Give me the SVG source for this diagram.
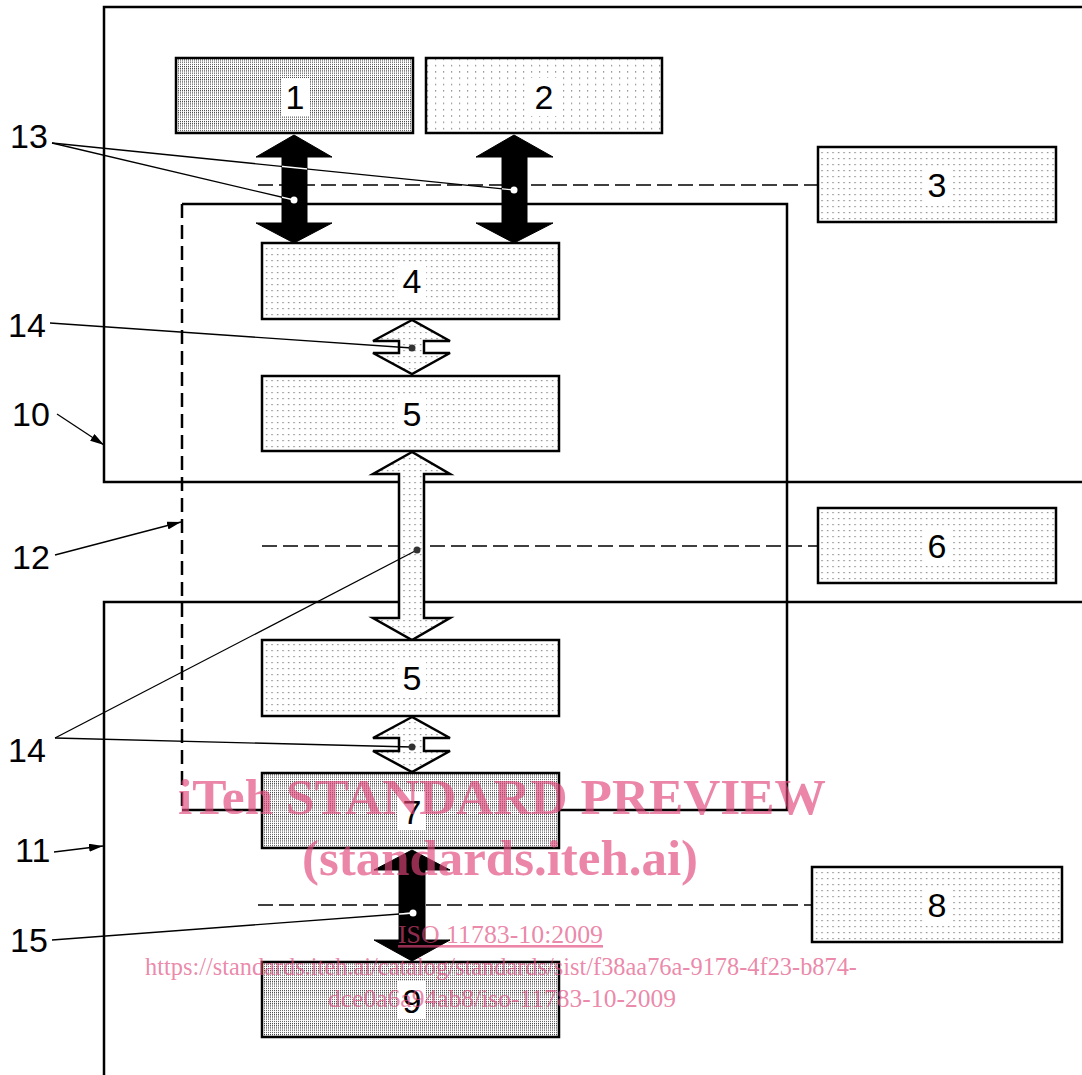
<svg xmlns="http://www.w3.org/2000/svg" width="1082" height="1075" viewBox="0 0 1082 1075">
  <defs>
    <!-- light dot screen for ordinary blocks -->
    <pattern id="dots" width="5.5" height="6" patternUnits="userSpaceOnUse">
      <rect width="5.5" height="6" fill="#fff"/>
      <rect x="2" y="2" width="1.2" height="1.2" fill="#777"/>
    </pattern>
    <!-- sparser dot screen -->
    <pattern id="dotsSparse" width="8" height="6.3" patternUnits="userSpaceOnUse">
      <rect width="8" height="6.3" fill="#fff"/>
      <rect x="3" y="2" width="1.2" height="1.2" fill="#777"/>
    </pattern>
    <!-- dense screen for darker blocks -->
    <pattern id="dense" width="2" height="2.2" patternUnits="userSpaceOnUse">
      <rect width="2" height="2.2" fill="#fff"/>
      <rect x="0" y="0" width="1" height="1.1" fill="#3a3a3a"/>
    </pattern>
    <marker id="tip" viewBox="0 0 14 8" refX="14" refY="4" markerWidth="14" markerHeight="8" markerUnits="userSpaceOnUse" orient="auto">
      <path d="M0,0 L14,4 L0,8 Z" fill="#000"/>
    </marker>
    <clipPath id="blackShafts">
      <polygon points="294,135 256,157 282,157 282,223 256,223 294,243 332,223 307,223 307,157 332,157"/>
      <polygon points="514,135 476,157 502,157 502,223 476,223 514,243 553,223 527,223 527,157 553,157"/>
      <polygon points="412,850 374,870 399,870 399,940 374,940 412,961 450,940 425,940 425,870 450,870"/>
    </clipPath>
  </defs>
  <style>
    .frame { fill: none; stroke: #000; stroke-width: 2.5; }
    .dash { fill: none; stroke: #000; stroke-width: 1.3; stroke-dasharray: 15 6; }
    .zone { fill: none; stroke: #000; stroke-width: 2.5; stroke-dasharray: 14 7; }
    .box { stroke: #000; stroke-width: 2.5; }
    .num { font-family: "Liberation Sans", Arial, sans-serif; font-size: 34px; fill: #000; text-anchor: middle; }
    .lbl { font-family: "Liberation Sans", Arial, sans-serif; font-size: 34px; fill: #000; }
    .gap { fill: #fff; }
    .leader { fill: none; stroke: #000; stroke-width: 1.3; }
    .white { stroke: #fff; }
    .arrowBlack { fill: #000; stroke: #000; stroke-width: 1; }
    .arrowOpen { fill: url(#dots); stroke: #000; stroke-width: 2.5; stroke-linejoin: miter; }
    .wm { font-family: "Liberation Serif", "Times New Roman", serif; fill: #e0457a; fill-opacity: 0.65; }
  </style>

  <rect width="1082" height="1075" fill="#fff"/>

  <!-- system boundaries 10 and 11 -->
  <g id="frame10">
    <polyline class="frame" points="1082,7 104,7 104,482 1082,482"/>
  </g>
  <g id="frame11">
    <polyline class="frame" points="1082,602 104,602 104,1075"/>
  </g>
  <!-- zone 12: dashed left side, solid elsewhere -->
  <g id="zone12">
    <line class="zone" x1="182" y1="204" x2="182" y2="810"/>
    <polyline class="frame" points="182,204 787,204 787,810 182,810"/>
  </g>

  <!-- interface lines to 3, 6, 8 and the data-flow arrows -->
  <g id="connectors">
    <line class="dash" x1="258" y1="185" x2="818" y2="185"/>
    <line class="dash" x1="262" y1="546" x2="818" y2="546"/>
    <line class="dash" x1="258" y1="905" x2="812" y2="905"/>

    <!-- black double arrows -->
    <polygon class="arrowBlack" points="294,135 256,157 282,157 282,223 256,223 294,243 332,223 307,223 307,157 332,157"/>
    <polygon class="arrowBlack" points="514,135 476,157 502,157 502,223 476,223 514,243 553,223 527,223 527,157 553,157"/>
    <polygon class="arrowBlack" points="412,850 374,870 399,870 399,940 374,940 412,961 450,940 425,940 425,870 450,870"/>

    <!-- open double arrows -->
    <polygon class="arrowOpen" points="412,320 373,341 399,341 399,353 373,353 412,374 450,353 424,353 424,341 450,341"/>
    <polygon class="arrowOpen" points="412,452 373,474 399,474 399,618 373,618 412,640 450,618 424,618 424,474 450,474"/>
    <polygon class="arrowOpen" points="412,717 373,738 399,738 399,751 373,751 412,772 450,751 424,751 424,738 450,738"/>
  </g>

  <!-- blocks -->
  <g id="node1"><rect class="box" x="176" y="58" width="237" height="75" fill="url(#dense)"/><rect class="gap" x="281" y="78" width="28" height="38"/><text class="num" x="295" y="109">1</text></g>
  <g id="node2"><rect class="box" x="426" y="58" width="236" height="75" fill="url(#dotsSparse)"/><rect class="gap" x="530" y="78" width="28" height="38"/><text class="num" x="544" y="109">2</text></g>
  <g id="node3"><rect class="box" x="818" y="147" width="238" height="75" fill="url(#dots)"/><rect class="gap" x="923" y="167" width="28" height="38"/><text class="num" x="937" y="197">3</text></g>
  <g id="node4"><rect class="box" x="262" y="243" width="297" height="76" fill="url(#dots)"/><rect class="gap" x="398" y="262" width="28" height="38"/><text class="num" x="412" y="293">4</text></g>
  <g id="node5a"><rect class="box" x="262" y="376" width="297" height="75" fill="url(#dots)"/><rect class="gap" x="398" y="395" width="28" height="38"/><text class="num" x="412" y="426">5</text></g>
  <g id="node6"><rect class="box" x="818" y="508" width="238" height="75" fill="url(#dots)"/><rect class="gap" x="923" y="527" width="28" height="38"/><text class="num" x="937" y="558">6</text></g>
  <g id="node5b"><rect class="box" x="262" y="640" width="297" height="76" fill="url(#dots)"/><rect class="gap" x="398" y="659" width="28" height="38"/><text class="num" x="412" y="690">5</text></g>
  <g id="node7"><rect class="box" x="262" y="773" width="297" height="75" fill="url(#dense)"/><rect class="gap" x="398" y="792" width="28" height="38"/><text class="num" x="412" y="824">7</text></g>
  <g id="node8"><rect class="box" x="812" y="867" width="250" height="75" fill="url(#dots)"/><rect class="gap" x="923" y="886" width="28" height="38"/><text class="num" x="937" y="917">8</text></g>
  <g id="node9"><rect class="box" x="262" y="962" width="297" height="75" fill="url(#dense)"/><rect class="gap" x="398" y="981" width="28" height="38"/><text class="num" x="412" y="1013">9</text></g>

  <!-- reference leaders and numbers -->
  <g id="labels">
    <text class="lbl" x="10" y="148">13</text>
    <line class="leader" x1="52" y1="143" x2="514" y2="190"/>
    <line class="leader" x1="52" y1="143" x2="294" y2="200"/>
    <g clip-path="url(#blackShafts)">
      <line class="leader white" x1="52" y1="143" x2="514" y2="190"/>
      <line class="leader white" x1="52" y1="143" x2="294" y2="200"/>
      <line class="leader white" x1="52" y1="940" x2="413" y2="913"/>
    </g>
    <circle cx="294" cy="200" r="3.5" fill="#fff"/>
    <circle cx="514" cy="190" r="3.5" fill="#fff"/>

    <text class="lbl" x="8" y="337">14</text>
    <line class="leader" x1="50" y1="323" x2="412" y2="348"/>
    <circle cx="412" cy="348" r="3.5" fill="#333"/>

    <text class="lbl" x="12" y="426">10</text>
    <line class="leader" x1="57" y1="414" x2="104" y2="445" marker-end="url(#tip)"/>

    <text class="lbl" x="12" y="569">12</text>
    <line class="leader" x1="55" y1="555" x2="181" y2="522" marker-end="url(#tip)"/>

    <text class="lbl" x="8" y="762">14</text>
    <line class="leader" x1="55" y1="738" x2="417" y2="550"/>
    <line class="leader" x1="55" y1="738" x2="412" y2="747"/>
    <circle cx="417" cy="550" r="3.5" fill="#333"/>
    <circle cx="412" cy="747" r="3.5" fill="#333"/>

    <text class="lbl" x="15" y="862">11</text>
    <line class="leader" x1="54" y1="852" x2="103" y2="846" marker-end="url(#tip)"/>

    <text class="lbl" x="10" y="952">15</text>
    <line class="leader" x1="52" y1="940" x2="413" y2="913"/>
    <g clip-path="url(#blackShafts)">
      <line class="leader white" x1="52" y1="940" x2="413" y2="913"/>
    </g>
    <circle cx="413" cy="913" r="3.5" fill="#fff"/>
  </g>

  <!-- publisher overprint -->
  <g id="overprint">
    <text class="wm" x="178" y="814" font-size="50" font-weight="bold" textLength="648" lengthAdjust="spacingAndGlyphs">iTeh STANDARD PREVIEW</text>
    <text class="wm" x="302" y="875" font-size="50" font-weight="bold" textLength="396" lengthAdjust="spacingAndGlyphs">(standards.iteh.ai)</text>
    <text class="wm" x="398" y="943" font-size="26" text-decoration="underline" textLength="205" lengthAdjust="spacingAndGlyphs">ISO 11783-10:2009</text>
    <text class="wm" x="145" y="975" font-size="26" textLength="712" lengthAdjust="spacingAndGlyphs">https://standards.iteh.ai/catalog/standards/sist/f38aa76a-9178-4f23-b874-</text>
    <text class="wm" x="328" y="1007" font-size="26" textLength="348" lengthAdjust="spacingAndGlyphs">dce0a6a94ab8/iso-11783-10-2009</text>
  </g>
</svg>
